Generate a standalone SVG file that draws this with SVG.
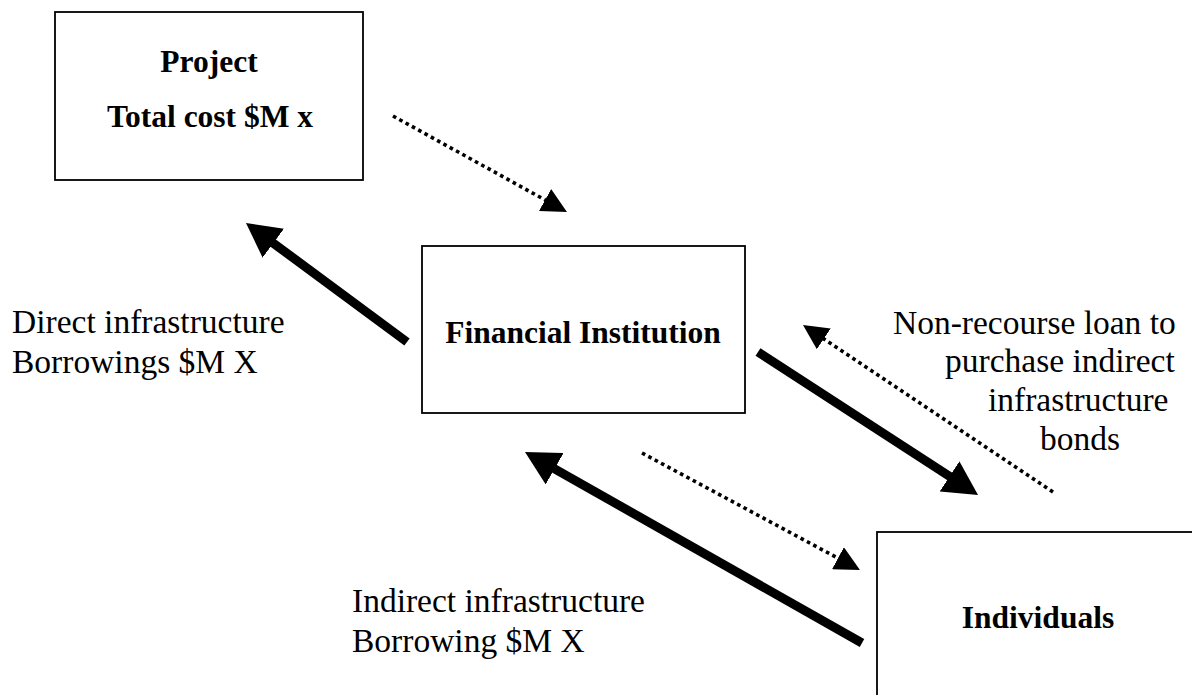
<svg xmlns="http://www.w3.org/2000/svg" width="1192" height="695" viewBox="0 0 1192 695">
<style>
.box{fill:#fff;stroke:#000;stroke-width:1.8}
.b{font-family:"Liberation Serif","Times New Roman",serif;font-weight:bold;font-size:31.5px;fill:#000;text-anchor:middle}
.r{font-family:"Liberation Serif","Times New Roman",serif;font-size:33.5px;fill:#000}
.thick{stroke:#000;stroke-width:9;fill:none;marker-end:url(#hThick)}
.dot{stroke:#000;stroke-width:3.6;stroke-dasharray:3.6 3.6;fill:none;marker-end:url(#hDot)}
</style>
<defs>
<marker id="hThick" markerUnits="userSpaceOnUse" markerWidth="34" markerHeight="36" refX="4" refY="18" orient="auto" viewBox="0 0 34 36"><path d="M0,0 L34,18 L0,36 z" fill="#000"/></marker>
<marker id="hDot" markerUnits="userSpaceOnUse" markerWidth="25" markerHeight="25" refX="3" refY="12.5" orient="auto" viewBox="0 0 25 25"><path d="M0,0 L25,12.5 L0,25 z" fill="#000"/></marker>
</defs>
<rect width="1192" height="695" fill="#fff"/>
<g id="project">
<rect class="box" x="55" y="12" width="308" height="168"/>
<text class="b" x="209" y="72">Project</text>
<text class="b" x="210" y="127">Total cost $M x</text>
</g>
<g id="financial">
<rect class="box" x="422" y="246" width="323" height="167"/>
<text class="b" x="583" y="343">Financial Institution</text>
</g>
<g id="individuals">
<rect class="box" x="877" y="532" width="340" height="200"/>
<text class="b" x="1038" y="628">Individuals</text>
</g>
<g id="connectors">
<path class="dot" d="M393,116 L547.7,201.4"/>
<path class="thick" d="M407,342 L270.1,240.8"/>
<path class="thick" d="M758,352 L952.9,478.6"/>
<path class="dot" d="M1053,492 L821.3,337.2"/>
<path class="dot" d="M642,453 L840.6,559.6"/>
<path class="thick" d="M862,643 L551.1,466.8"/>
</g>
<g id="labels">
<text class="r" x="12" y="333">Direct infrastructure</text>
<text class="r" x="12" y="373">Borrowings $M X</text>
<text class="r" x="352" y="612">Indirect infrastructure</text>
<text class="r" x="352" y="652">Borrowing $M X</text>
<text class="r" x="893" y="334">Non-recourse loan to</text>
<text class="r" x="945" y="372">purchase indirect</text>
<text class="r" x="988" y="411">infrastructure</text>
<text class="r" x="1040" y="450">bonds</text>
</g>
</svg>
